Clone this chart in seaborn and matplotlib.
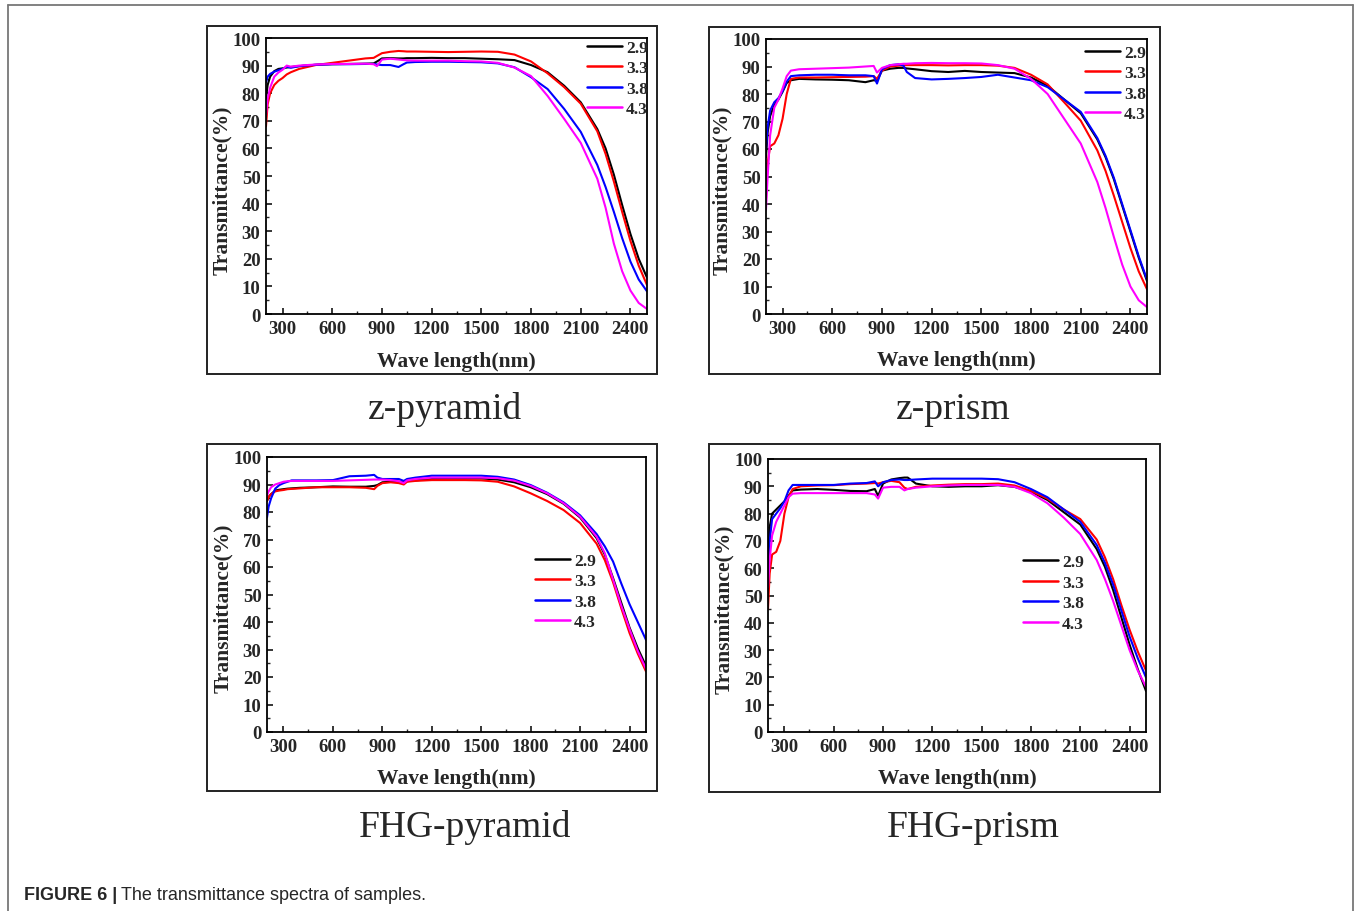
import numpy as np
import pandas as pd
import matplotlib
matplotlib.use("Agg")
import matplotlib.pyplot as plt
from matplotlib.lines import Line2D
from matplotlib.patches import Rectangle
from matplotlib.ticker import MultipleLocator
import seaborn as sns

# ---------------- data ----------------
wavelength = [200, 210, 225, 250, 275, 300, 325, 350, 400, 500, 600, 700, 800, 850, 870,
              900, 950, 1000, 1030, 1050, 1100, 1200, 1300, 1400, 1500, 1600, 1700, 1800,
              1900, 2000, 2100, 2200, 2250, 2300, 2350, 2400, 2450, 2500]
samples = ["2.9", "3.3", "3.8", "4.3"]
panel_titles = ["z-pyramid", "z-prism", "FHG-pyramid", "FHG-prism"]
x_ticks = [300, 600, 900, 1200, 1500, 1800, 2100, 2400]
y_ticks = [0, 10, 20, 30, 40, 50, 60, 70, 80, 90, 100]

zpyr_29 = [78, 83, 86, 88, 88.8, 89, 89.3, 89.5, 89.8, 90.3, 90.5, 90.6, 90.7, 90.8, 91.5,
           92.6, 92.7, 92.6, 92.6, 92.7, 92.7, 92.8, 92.7, 92.7, 92.5, 92.3, 92.0, 90.2,
           87.6, 82.7, 76.7, 67, 60, 50.5, 39.5, 29, 20, 13.2]
zpyr_33 = [68, 76, 80, 83, 84.5, 85.5, 86.8, 87.6, 88.8, 90.2, 91, 91.8, 92.6, 92.8, 93.5,
           94.5, 95, 95.3, 95.2, 95.1, 95.1, 95.0, 94.9, 95.0, 95.1, 95.0, 94.0, 91.5,
           87.2, 82.2, 76.2, 66.2, 58, 48, 37, 26.5, 17.5, 10.5]
zpyr_38 = [84, 86, 87, 87.8, 88.3, 88.8, 89.6, 89.2, 89.8, 90.3, 90.5, 90.5, 90.6, 90.6, 90.4,
           90.2, 90.2, 89.5, 90.5, 91.1, 91.3, 91.4, 91.4, 91.3, 91.2, 90.8, 89.4, 85.8,
           81.5, 74.3, 66, 54, 46, 37, 27.5, 19, 12.5, 8.2]
zpyr_43 = [72, 78, 82, 86, 87.5, 88.5, 90, 89.6, 90, 90.4, 90.6, 90.6, 90.7, 90.5, 89.8,
           92.2, 92.5, 92.2, 92, 91.9, 91.8, 91.8, 91.8, 91.6, 91.5, 91.0, 89.3, 86.2,
           79, 70.7, 62, 49, 38.5, 25.5, 15.5, 8.5, 4, 1.8]

zpri_29 = [57, 66, 72, 76, 78, 80.8, 84, 85, 85.5, 85.3, 85.2, 85, 84.3, 85, 84.8,
           88.5, 89.2, 89.5, 89.5, 89.3, 89, 88.3, 88, 88.4, 88, 87.8, 87.6, 86,
           83, 78, 73, 63.5, 57, 49, 39.5, 30, 20.5, 12]
zpri_33 = [42, 55, 61, 62, 65, 71, 80, 85.5, 86, 86, 86.1, 86.2, 86.3, 86.5, 85.5,
           88.5, 90, 90.3, 90.4, 90.5, 90.5, 90.5, 90.4, 90.5, 90.5, 90.3, 89.5, 87,
           83.5, 77, 70.3, 59.5, 52, 43, 33.5, 24, 15.5, 9]
zpri_38 = [60, 68, 74, 77, 78.5, 81, 84.5, 86.5, 86.8, 87, 87, 86.8, 86.8, 86.5, 83.8,
           89, 90.5, 90.8, 90.3, 88, 85.8, 85.3, 85.5, 85.8, 86.2, 87, 86, 85,
           82.5, 78, 73.5, 64, 57.5, 49.5, 40, 30.5, 21, 12.5]
zpri_43 = [38, 50, 65, 75, 78, 82, 86.5, 88.5, 89, 89.2, 89.4, 89.6, 90, 90.2, 87.8,
           89.5, 90.5, 90.8, 91, 91, 91.2, 91.3, 91.2, 91.2, 91.1, 90.5, 89.2, 85.5,
           80, 71, 62, 48, 38.5, 28, 18, 10, 5, 2.5]

fpyr_29 = [84, 85.5, 86.5, 87.8, 88.1, 88.3, 88.5, 88.6, 88.8, 89, 89.3, 89.2, 89.2, 89.5, 89.8,
           90.8, 91, 91, 91, 91.2, 91.5, 92, 92.2, 92.2, 92.2, 91.8, 90.8, 89,
           86.5, 83, 78, 70.5, 64.5, 56, 47, 38, 30.5, 24]
fpyr_33 = [84, 85.5, 86.5, 87.5, 87.8, 88, 88.3, 88.4, 88.6, 89, 89, 89, 88.8, 88.3, 89.5,
           90.5, 90.8, 90.5, 90, 91, 91.3, 91.6, 91.6, 91.6, 91.5, 91, 89.3, 86.8,
           84, 80.7, 76, 68.5, 62.5, 54.5, 45, 36, 28.5, 22]
fpyr_38 = [78, 82, 85, 88.5, 89.8, 90.5, 91, 91.5, 91.5, 91.5, 91.6, 93, 93.2, 93.5, 92.5,
           92, 92, 92, 91.3, 92, 92.5, 93.2, 93.2, 93.2, 93.2, 92.8, 91.8, 89.8,
           87, 83.5, 78.8, 72, 67.5, 62, 54, 46.5, 40, 33.5]
fpyr_43 = [86, 87.5, 89, 90, 90.5, 91, 91.2, 91.3, 91.3, 91.3, 91.3, 91.5, 91.7, 91.8, 91.8,
           91.8, 91.6, 91.2, 90.5, 91.5, 92, 92.5, 92.5, 92.5, 92.5, 92.3, 91.4, 89.5,
           86.8, 83.2, 78.3, 71, 65, 55.5, 46, 37.5, 29.5, 23]

fpri_29 = [62, 75, 80, 81.5, 83, 84.5, 86.5, 88.5, 88.8, 89, 88.7, 88.3, 88.2, 89, 86.5,
           91, 92.5, 93, 93.2, 93.2, 91, 90, 89.8, 90, 90, 90.4, 89.8, 88,
           85, 80.5, 76, 67, 60.5, 52, 42, 32, 23, 15]
fpri_33 = [45, 58, 65, 66, 70, 80, 86, 89, 90, 90.3, 90.4, 90.8, 91, 91.2, 91,
           91.5, 92, 91.5, 89.5, 89, 89.8, 90.3, 90.6, 90.8, 90.8, 91, 90.3, 88.3,
           85.5, 81.5, 78, 70.5, 64, 56, 46.5, 37.5, 29.5, 22.5]
fpri_38 = [58, 70, 78, 80, 82, 84.5, 88.5, 90.5, 90.5, 90.5, 90.5, 91, 91.2, 91.8, 90,
           91.5, 92.3, 92.5, 92.3, 92.3, 92.5, 92.8, 92.8, 92.8, 92.8, 92.6, 91.5, 89,
           86, 81.5, 77, 68.5, 62, 54, 44.5, 35, 27, 20]
fpri_43 = [53, 63, 72, 77, 80, 83, 86, 87.3, 87.5, 87.5, 87.5, 87.5, 87.5, 87, 85.5,
           89.5, 89.8, 89.8, 88.5, 89, 89.5, 90, 90.3, 90.5, 90.5, 90.5, 89.8, 87.5,
           83.8, 78.5, 72.5, 63, 56, 48, 39, 30, 22.5, 16.5]

panel_series = [
    [zpyr_29, zpyr_33, zpyr_38, zpyr_43],
    [zpri_29, zpri_33, zpri_38, zpri_43],
    [fpyr_29, fpyr_33, fpyr_38, fpyr_43],
    [fpri_29, fpri_33, fpri_38, fpri_43],
]

# ---------------- style ----------------
sns.set_style("ticks")
plt.rcParams["font.family"] = ["Liberation Serif", "DejaVu Serif"]
plt.rcParams["font.weight"] = "bold"
palette = {"2.9": "#000000", "3.3": "#ff0000", "3.8": "#0000ff", "4.3": "#ff00ff"}

W, H = 1356, 912
fig = plt.figure(figsize=(W / 100, H / 100), dpi=100)
fig.patch.set_facecolor("white")

def fx(px):
    return px / W

def fy(py):
    return 1 - py / H

# axes pixel boxes (left, top, right, bottom)
axes_px = [(266, 39, 647, 315), (766, 40, 1147, 315),
           (267, 458, 646, 733), (768, 460, 1146, 733)]
frame_px = [(207, 27, 657, 375), (709, 28, 1160, 375),
            (207, 445, 657, 792), (709, 445, 1160, 793)]
legend_anchor = [(0.843, 0.994), (0.837, 0.979), (0.707, 0.652), (0.675, 0.652)]
title_pos = [(445.5, 419), (953.5, 419), (465.4, 837), (973.5, 837)]

# outer figure border
border_kw = dict(color="#777777", lw=1.3, transform=fig.transFigure)
fig.add_artist(Line2D([fx(8), fx(1353)], [fy(6), fy(6)], **border_kw))
fig.add_artist(Line2D([fx(8), fx(8)], [fy(6), fy(912)], **border_kw))
fig.add_artist(Line2D([fx(1353), fx(1353)], [fy(6), fy(912)], **border_kw))

for i in range(4):
    l, t, r, b = axes_px[i]
    ax = fig.add_axes([fx(l), fy(b), fx(r) - fx(l), fy(t) - fy(b)])
    rows = []
    for s, vals in zip(samples, panel_series[i]):
        for w, v in zip(wavelength, vals):
            rows.append({"wavelength": w, "T": v, "sample": s})
    df = pd.DataFrame(rows)
    sns.lineplot(data=df, x="wavelength", y="T", hue="sample", hue_order=samples,
                 palette=palette, estimator=None, linewidth=1.5, ax=ax)
    ax.set_xlim(200, 2500)
    ax.set_ylim(0, 100)
    ax.set_xticks(x_ticks)
    ax.set_yticks(y_ticks)
    ax.xaxis.set_minor_locator(MultipleLocator(150))
    ax.yaxis.set_minor_locator(MultipleLocator(5))
    ax.tick_params(axis="both", which="major", direction="in", length=4, width=1.1,
                   labelsize=13.5, pad=4, top=False, right=False, color="black")
    ax.tick_params(axis="both", which="minor", direction="in", length=2.5, width=1.0,
                   top=False, right=False)
    for lab in ax.get_xticklabels() + ax.get_yticklabels():
        lab.set_fontweight("bold")
    for sp in ax.spines.values():
        sp.set_visible(True)
        sp.set_linewidth(1.3)
        sp.set_color("black")
    ax.set_xlabel("Wave length(nm)", fontsize=15.5, fontweight="bold")
    ax.xaxis.set_label_coords(0.5, -0.169)
    ax.xaxis.label.set_verticalalignment("center")
    ax.set_ylabel("Transmittance(%)", fontsize=15.5, fontweight="bold")
    ax.yaxis.set_label_coords(-0.115, 0.453)
    ax.yaxis.label.set_verticalalignment("center")

    leg = ax.legend(loc="upper left", bbox_to_anchor=legend_anchor[i], frameon=False,
                    borderaxespad=0, borderpad=0, handlelength=2.0, handletextpad=0.25,
                    labelspacing=0.25, prop={"family": "Liberation Serif", "weight": "bold", "size": 12.5})
    for h in leg.get_lines():
        h.set_linewidth(1.8)

    fl, ft, fr, fb = frame_px[i]
    fig.add_artist(Rectangle((fx(fl), fy(fb)), fx(fr) - fx(fl), fy(ft) - fy(fb),
                             transform=fig.transFigure, fill=False, lw=1.4,
                             edgecolor="#222222"))
    tx, ty = title_pos[i]
    fig.text(fx(tx), fy(ty), panel_titles[i], ha="center", va="baseline",
             fontsize=27, fontweight="normal", family="Liberation Serif")

# caption
cap1 = fig.text(fx(24), fy(900.5), "FIGURE 6 |", ha="left", va="baseline",
                fontsize=13, fontweight="bold", family="Liberation Sans")
fig.canvas.draw()
bb = cap1.get_window_extent(renderer=fig.canvas.get_renderer())
fig.text(bb.x1 / W + fx(4), fy(900.5), "The transmittance spectra of samples.",
         ha="left", va="baseline", fontsize=13, fontweight="normal",
         family="Liberation Sans")

fig.savefig("out.png", dpi=100, facecolor="white")
